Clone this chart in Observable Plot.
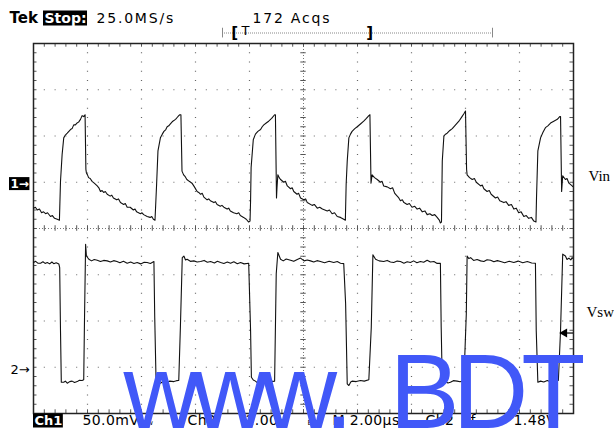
<!DOCTYPE html>
<html><head><meta charset="utf-8">
<script src="https://cdn.jsdelivr.net/npm/d3@7"></script>
<script src="https://cdn.jsdelivr.net/npm/@observablehq/plot@0.6"></script>
<style>
html,body{margin:0;padding:0;background:#fff;}
</style></head><body><div id="chart"></div>
<script>
// Channel 1 (Vin): [time µs, mV relative to ch1 ground]
const ch1Data = [
[0.00,-28],[0.07,-27],[0.14,-30],[0.22,-29],[0.30,-33],[0.37,-32],[0.45,-34],[0.52,-33],[0.63,-37],[0.70,-36],[0.78,-39],[0.88,-40],[0.96,-41],
[1.00,1],[1.06,30],[1.12,48],[1.18,51],[1.25,53],[1.31,55],[1.37,57],[1.43,58],[1.49,62],[1.55,62],[1.61,64],[1.67,65],[1.74,68],[1.80,72],[1.86,71],[1.91,73],
[1.94,14],[1.96,10],[2.00,8],[2.04,5],[2.10,4],[2.17,1],[2.25,-1],[2.36,-4],[2.42,-6],[2.48,-10],[2.54,-9],[2.60,-11],[2.66,-10],[2.73,-13],[2.84,-15],[2.90,-14],[2.96,-17],[3.08,-19],[3.15,-18],[3.22,-22],[3.34,-24],[3.40,-23],[3.47,-27],[3.58,-27],[3.70,-30],[3.76,-29],[3.82,-32],[3.96,-34],[4.02,-33],[4.08,-35],[4.21,-37],[4.32,-38],[4.38,-37],[4.44,-40],[4.50,-41],
[4.56,-2],[4.61,34],[4.70,48],[4.77,52],[4.83,55],[4.90,57],[4.95,60],[5.01,61],[5.07,63],[5.16,66],[5.26,68],[5.32,70],[5.38,72],[5.42,73],[5.46,73],
[5.50,12],[5.56,8],[5.62,6],[5.68,3],[5.77,1],[5.87,-1],[5.96,-5],[6.06,-10],[6.12,-11],[6.19,-13],[6.25,-12],[6.31,-16],[6.43,-19],[6.49,-18],[6.55,-20],[6.68,-22],[6.74,-21],[6.80,-24],[6.92,-26],[6.98,-25],[7.05,-27],[7.17,-29],[7.23,-28],[7.29,-31],[7.41,-33],[7.53,-34],[7.60,-33],[7.66,-36],[7.78,-38],[7.88,-40],[7.97,-43],[8.02,-42],
[8.04,-20],[8.06,16],[8.14,46],[8.22,52],[8.31,55],[8.41,57],[8.47,60],[8.53,62],[8.62,64],[8.71,66],[8.82,69],[8.93,73],[8.96,73],
[9.00,-17],[9.02,-5],[9.05,8],[9.10,5],[9.15,3],[9.27,0],[9.33,1],[9.40,-4],[9.52,-7],[9.58,-6],[9.64,-10],[9.76,-13],[9.82,-12],[9.89,-17],[10.01,-19],[10.08,-18],[10.14,-22],[10.32,-25],[10.40,-24],[10.51,-28],[10.60,-27],[10.70,-29],[10.88,-31],[10.96,-30],[11.06,-34],[11.15,-33],[11.25,-37],[11.37,-38],[11.49,-40],[11.55,-41],
[11.58,-2],[11.62,23],[11.68,48],[11.74,52],[11.80,55],[11.90,58],[11.99,60],[12.11,63],[12.23,66],[12.33,69],[12.42,72],[12.46,73],
[12.50,-1],[12.54,8],[12.63,5],[12.73,3],[12.85,0],[12.91,1],[12.97,-4],[13.10,-5],[13.22,-7],[13.30,-6],[13.38,-12],[13.53,-17],[13.59,-20],[13.66,-19],[13.72,-22],[13.84,-24],[13.92,-23],[14.02,-27],[14.12,-26],[14.21,-29],[14.30,-28],[14.40,-32],[14.50,-31],[14.58,-35],[14.68,-34],[14.77,-36],[14.86,-35],[14.95,-38],[15.03,-41],[15.07,-44],[15.11,-43],
[15.14,23],[15.20,50],[15.26,52],[15.32,53],[15.42,56],[15.51,58],[15.60,61],[15.69,64],[15.78,67],[15.87,71],[15.94,74],[16.00,77],
[16.04,14],[16.06,8],[16.15,5],[16.25,3],[16.33,4],[16.40,0],[16.56,-4],[16.62,-3],[16.68,-7],[16.80,-10],[16.88,-9],[16.95,-13],[17.11,-17],[17.19,-16],[17.27,-20],[17.42,-22],[17.50,-21],[17.60,-25],[17.70,-24],[17.79,-29],[17.88,-28],[17.97,-33],[18.06,-32],[18.16,-37],[18.25,-36],[18.34,-39],[18.44,-38],[18.53,-42],[18.61,-43],
[18.63,-17],[18.68,34],[18.78,48],[18.87,54],[18.96,59],[19.05,61],[19.15,64],[19.27,66],[19.40,68],[19.49,71],[19.52,71],
[19.56,-10],[19.60,7],[19.70,3],[19.76,4],[19.83,-1],[19.95,-4],[20.00,-5]
];
// Channel 2 (Vsw): [time µs, V relative to ch2 ground]
const ch2Data = [
[0.00,4.53],[0.08,4.58],[0.16,4.50],[0.26,4.50],[0.35,4.56],[0.43,4.49],[0.51,4.53],[0.60,4.47],[0.68,4.55],[0.75,4.48],[0.84,4.52],[0.94,4.46],[0.97,4.31],
[1.00,1.58],[1.03,-0.65],[1.12,-0.65],[1.18,-0.60],[1.25,-0.69],[1.34,-0.62],[1.43,-0.60],[1.52,-0.66],[1.62,-0.62],[1.70,-0.56],[1.80,-0.57],[1.86,-0.54],
[1.89,2.16],[1.93,5.32],[1.96,4.81],[2.05,4.67],[2.15,4.60],[2.25,4.66],[2.36,4.63],[2.48,4.57],[2.60,4.62],[2.73,4.60],[2.85,4.55],[2.97,4.61],[3.09,4.57],[3.20,4.52],[3.33,4.58],[3.47,4.50],[3.60,4.55],[3.72,4.49],[3.84,4.53],[3.97,4.47],[4.10,4.54],[4.21,4.53],[4.33,4.49],[4.46,4.57],
[4.49,2.16],[4.54,-0.65],[4.62,-0.70],[4.70,-0.69],[4.80,-0.62],[4.95,-0.65],[5.05,-0.60],[5.20,-0.62],[5.30,-0.58],[5.38,-0.57],
[5.44,1.72],[5.51,4.74],[5.57,4.81],[5.63,4.64],[5.69,4.67],[5.81,4.58],[5.94,4.60],[6.06,4.55],[6.19,4.57],[6.32,4.62],[6.44,4.54],[6.56,4.57],[6.70,4.51],[6.81,4.58],[6.93,4.53],[7.05,4.49],[7.18,4.55],[7.30,4.50],[7.42,4.56],[7.55,4.48],[7.67,4.53],[7.80,4.47],[7.97,4.50],
[8.04,1.58],[8.07,-0.43],[8.14,-0.55],[8.22,-0.60],[8.34,-0.72],[8.43,-0.62],[8.53,-0.65],[8.65,-0.60],[8.78,-0.57],[8.86,-0.62],[8.93,-0.60],
[8.99,4.04],[9.05,4.96],[9.15,4.67],[9.25,4.60],[9.36,4.68],[9.52,4.63],[9.64,4.58],[9.77,4.66],[9.89,4.72],[10.02,4.60],[10.14,4.64],[10.26,4.60],[10.38,4.55],[10.50,4.61],[10.63,4.57],[10.78,4.52],[10.95,4.58],[11.12,4.53],[11.25,4.57],[11.37,4.50],[11.49,4.48],
[11.56,2.75],[11.62,-0.72],[11.68,-0.79],[11.75,-0.64],[11.80,-0.60],[11.95,-0.62],[12.11,-0.57],[12.25,-0.60],[12.42,-0.54],
[12.51,1.72],[12.57,4.86],[12.67,4.67],[12.80,4.60],[12.97,4.57],[13.10,4.62],[13.22,4.55],[13.34,4.53],[13.47,4.59],[13.59,4.57],[13.72,4.50],[13.84,4.56],[13.96,4.53],[14.08,4.60],[14.20,4.52],[14.33,4.57],[14.45,4.54],[14.58,4.63],[14.70,4.55],[14.83,4.57],[14.95,4.49],[15.07,4.50],
[15.10,1.72],[15.14,-0.72],[15.25,-0.62],[15.35,-0.68],[15.44,-0.65],[15.55,-0.58],[15.69,-0.60],[15.80,-0.63],[15.94,-0.57],
[16.03,2.31],[16.06,4.81],[16.12,4.70],[16.19,4.74],[16.30,4.62],[16.43,4.66],[16.56,4.60],[16.68,4.57],[16.80,4.65],[16.93,4.63],[17.05,4.56],[17.18,4.61],[17.30,4.57],[17.45,4.52],[17.62,4.58],[17.79,4.53],[17.95,4.59],[18.12,4.52],[18.29,4.57],[18.45,4.51],[18.59,4.50],
[18.62,1.58],[18.68,-0.65],[18.78,-0.60],[18.90,-0.64],[19.03,-0.57],[19.12,-0.62],[19.21,-0.60],[19.33,-0.55],[19.44,-0.57],
[19.52,1.58],[19.60,4.89],[19.70,4.81],[19.76,4.66],[19.83,4.72],[19.90,4.64],[19.95,4.74],[20.00,4.68]
];
// Channel settings (from the readout)
const ch1Scale = 50, ch1Offset = 1;    // mV/div, ground position in divisions
const ch2Scale = 2,  ch2Offset = -3;   // V/div
const triggerLevel = [1.48];           // V on ch2
const recordBar = {start: 7, end: 17, viewStart: 7.45, trigger: 7.85, viewEnd: 12.45};
const headerTexts = ["Tek", "Stop:", "25.0MS/s", "172 Acqs"];
const footerTexts = ["Ch1", "50.0mV", "Bw", "Ch2", "2.00V", "Bw", "M 2.00µs", "Ch2", "ƒ", "1.48V"];
const channelLabels = ["Vin", "Vsw"];
const markerTexts = ["1→", "2→"];
const watermarkTexts = ["www.", "BDT"];

// Graticule: 10 x 8 divisions, 2 µs/div horizontally
const majorX = d3.range(2, 19, 2);
const majorY = d3.range(-3, 3.5, 1);
const minorX = d3.range(0, 20.001, 0.4);
const minorY = d3.range(-4, 4.001, 0.2);

const F = "DejaVu Sans";
const txt = (t, anchor, dx, dy, o = {}) => Plot.text([t], {
  text: d => d, frameAnchor: anchor, dx, dy, textAnchor: "start", lineAnchor: "bottom",
  fontFamily: F, fontSize: 14, fill: "black", ...o
});

const chart = Plot.plot({
  width: 614, height: 430,
  marginLeft: 33, marginRight: 41, marginTop: 43, marginBottom: 17,
  x: {domain: [0, 20], axis: null},
  y: {domain: [-4, 4], axis: null},
  style: {background: "white", overflow: "visible", fontFamily: F},
  marks: [
    // dotted grid
    Plot.ruleX(majorX.filter(d => d !== 10), {stroke: "#666", strokeWidth: 1.2, strokeDasharray: "1 8.25"}),
    Plot.ruleY(majorY.filter(d => d !== 0), {stroke: "#666", strokeWidth: 1.2, strokeDasharray: "1 9.8"}),
    // center cross
    Plot.ruleX([10], {stroke: "#777", strokeDasharray: "1 2"}),
    Plot.ruleY([0], {stroke: "#777", strokeDasharray: "1 2"}),
    Plot.ruleY(minorY, {x1: 9.9, x2: 10.1, stroke: "#555"}),
    Plot.ruleX(minorX, {y1: -0.06, y2: 0.06, stroke: "#555"}),
    // edge ticks
    Plot.ruleX(minorX, {y1: 4, y2: 3.92, stroke: "#555"}),
    Plot.ruleX(minorX, {y1: -4, y2: -3.92, stroke: "#555"}),
    Plot.ruleY(minorY, {x1: 0, x2: 0.13, stroke: "#555"}),
    Plot.ruleY(minorY, {x1: 19.87, x2: 20, stroke: "#555"}),
    Plot.frame({stroke: "#222", strokeWidth: 1.5}),
    // traces
    Plot.line(ch1Data, {x: d => d[0], y: d => ch1Offset + d[1] / ch1Scale, stroke: "#111", strokeWidth: 1.1, clip: true}),
    Plot.line(ch2Data, {x: d => d[0], y: d => ch2Offset + d[1] / ch2Scale, stroke: "#111", strokeWidth: 1.1, clip: true}),
    // ch2 trigger level marker
    Plot.ruleY(triggerLevel, {y: d => ch2Offset + d / ch2Scale, x1: 19.7, x2: 20, stroke: "black", strokeWidth: 1.2}),
    Plot.dot(triggerLevel, {x: () => 20, y: d => ch2Offset + d / ch2Scale, symbol: "triangle", rotate: -90, r: 3.4, fill: "black", dx: -9}),
    // channel ground markers
    Plot.text([markerTexts[0]], {text: d => d, frameAnchor: "left", y: () => ch1Offset, dx: -23, dy: 1.5, textAnchor: "start", lineAnchor: "middle", fontFamily: F, fontSize: 12, fontWeight: "bold", fill: "white", ariaDescription: "inverse"}),
    Plot.text([markerTexts[1]], {text: d => d, frameAnchor: "left", y: () => ch2Offset, dx: -23, dy: 3, textAnchor: "start", lineAnchor: "middle", fontFamily: F, fontSize: 13, fill: "black"}),
    // channel labels
    txt(channelLabels[0], "right", 15, -47.5, {fontFamily: "Liberation Serif", fontSize: 15}),
    txt(channelLabels[1], "right", 13, 88, {fontFamily: "Liberation Serif", fontSize: 15}),
    // record bar
    Plot.ruleY([4], {x1: recordBar.start, x2: recordBar.end, dy: -10.5, stroke: "#888", strokeDasharray: "1 1"}),
    Plot.ruleX([recordBar.start, recordBar.end], {y1: 4.12, y2: 4.33, stroke: "#888"}),
    Plot.text(["["], {x: () => recordBar.viewStart, y: () => 4, dy: -10, text: d => d, fontFamily: F, fontSize: 15, fontWeight: "bold", lineAnchor: "middle"}),
    Plot.text(["T"], {x: () => recordBar.trigger, y: () => 4, dy: -12.5, text: d => d, fontFamily: F, fontSize: 13, lineAnchor: "middle"}),
    Plot.text(["]"], {x: () => recordBar.viewEnd, y: () => 4, dy: -10, text: d => d, fontFamily: F, fontSize: 15, fontWeight: "bold", lineAnchor: "middle"}),
    // header
    txt(headerTexts[0], "top-left", -24, -20.5, {fontWeight: "bold", fontSize: 15}),
    txt(headerTexts[1], "top-left", 11, -20.5, {fontWeight: "bold", fill: "white", ariaDescription: "inverse"}),
    txt(headerTexts[2], "top-left", 63, -20.5, {ariaDescription: "hud"}),
    txt(headerTexts[3], "top-left", 219, -20.5, {ariaDescription: "hud"}),
    // footer
    txt(footerTexts[0], "bottom-left", 1, 11.5, {fontWeight: "bold", fill: "white", fontSize: 13, ariaDescription: "inverse"}),
    txt(footerTexts[1], "bottom-left", 49, 11.5, {ariaDescription: "foot"}),
    txt(footerTexts[2], "bottom-left", 109, 11.5, {fontSize: 7}),
    txt(footerTexts[3], "bottom-left", 154, 11.5, {ariaDescription: "foot"}),
    txt(footerTexts[4], "bottom-left", 212, 11.5, {ariaDescription: "foot"}),
    txt(footerTexts[5], "bottom-left", 274, 11.5, {fontSize: 7}),
    txt(footerTexts[6], "bottom-left", 299, 11.5, {ariaDescription: "foot"}),
    txt(footerTexts[7], "bottom-left", 392, 11.5, {ariaDescription: "foot"}),
    txt(footerTexts[8], "bottom-left", 437, 11.5, {ariaDescription: "foot"}),
    txt(footerTexts[9], "bottom-left", 480, 11.5, {ariaDescription: "foot"}),
    // watermark
    txt(watermarkTexts[0], "bottom-left", 90, 14, {fontFamily: "Liberation Sans", fontSize: 105, fill: "#4158f8", ariaDescription: "watermark"}),
    txt(watermarkTexts[1], "bottom-left", 356, 14, {fontFamily: "Liberation Sans", fontSize: 105, fill: "#4158f8", ariaDescription: "watermark"})
  ]
});
document.getElementById("chart").appendChild(chart);
d3.select(chart).selectAll('g[aria-description="hud"] text').style("letter-spacing", "1.8px");
d3.select(chart).selectAll('g[aria-description="foot"] text').style("letter-spacing", "0.4px");
d3.select(chart).selectAll('g[aria-description="watermark"] text').style("letter-spacing", "-7px");
// black boxes behind inverse-video readouts
d3.select(chart).selectAll('g[aria-description="inverse"] text').each(function() {
  const b = this.getBBox();
  const node = this;
  d3.select(this.parentNode).insert("rect", () => node)
    .attr("x", b.x - 1.5).attr("y", b.y + 0.5).attr("width", b.width + 2).attr("height", b.height - 1)
    .attr("transform", this.getAttribute("transform"))
    .attr("fill", "black").attr("stroke", "none");
});
</script></body></html>
